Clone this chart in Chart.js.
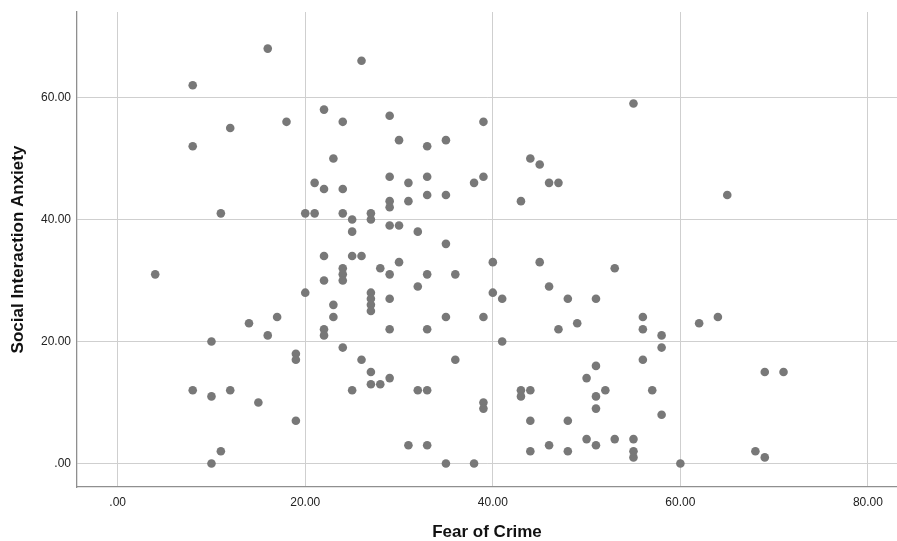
<!DOCTYPE html>
<html>
<head>
<meta charset="utf-8">
<script src="https://cdn.jsdelivr.net/npm/chart.js@4/dist/chart.umd.min.js"></script>
<style>
  html, body { margin: 0; padding: 0; background: #ffffff; overflow: hidden; }
  #wrap { width: 897px; height: 541px; position: relative; }
  canvas { display: block; }
</style>
</head>
<body>
<div id="wrap"><canvas id="c" width="897" height="541"></canvas></div>
<script>
const fearOfCrime = [
  16, 8, 22, 18, 24, 12, 8, 23, 21, 22, 24, 11, 20, 21, 24, 25, 25,
  4, 22, 25, 24, 24, 24, 22, 20, 23, 23, 14, 17, 16, 22, 22, 10, 24, 19, 19,
  8, 10, 12, 15, 25, 19, 11, 10,
  26, 29, 30, 33, 35, 39, 29, 31, 33, 38, 39, 33, 35, 29, 29, 31, 27, 27, 29, 30, 32, 35,
  26, 28, 30, 29, 33, 36, 40, 27, 27, 27, 27, 29, 32, 40, 41, 35, 39, 29, 33, 41,
  26, 27, 27, 28, 29, 32, 33, 36, 39, 39, 31, 33, 35, 38,
  55, 44, 45, 46, 47, 43, 65,
  45, 53, 46, 48, 51, 56, 62, 64, 47, 49, 56, 58, 58, 56, 51, 50, 69, 71,
  43, 43, 44, 52, 51, 57, 51, 58, 44, 48, 50, 46, 51, 53, 55, 55, 55, 44, 48, 60, 68, 69
];
const socialAnxiety = [
  68, 62, 58, 56, 56, 55, 52, 50, 46, 45, 45, 41, 41, 41, 41, 40, 38,
  31, 34, 34, 32, 31, 30, 30, 28, 26, 24, 23, 24, 21, 22, 21, 20, 19, 18, 17,
  12, 11, 12, 10, 12, 7, 2, 0,
  66, 57, 53, 52, 53, 56, 47, 46, 47, 46, 47, 44, 44, 43, 42, 43, 41, 40, 39, 39, 38, 36,
  34, 32, 33, 31, 31, 31, 33, 28, 27, 26, 25, 27, 29, 28, 27, 24, 24, 22, 22, 20,
  17, 15, 13, 13, 14, 12, 12, 17, 10, 9, 3, 3, 0, 0,
  59, 50, 49, 46, 46, 43, 44,
  33, 32, 29, 27, 27, 24, 23, 24, 22, 23, 22, 21, 19, 17, 16, 14, 15, 15,
  12, 11, 12, 12, 11, 12, 9, 8, 7, 7, 4, 3, 3, 4, 4, 2, 1, 2, 2, 0, 2, 1
];
const xTickValues = [0, 20, 40, 60, 80];
const xTickLabels = ['.00', '20.00', '40.00', '60.00', '80.00'];
const yTickValues = [0, 20, 40, 60];
const yTickLabels = ['.00', '20.00', '40.00', '60.00'];
const xTitle = 'Fear of Crime';
const yTitle = 'Social Interaction Anxiety';

const points = fearOfCrime.map((x, i) => ({ x: x, y: socialAnxiety[i] }));

const FONT = "'Liberation Sans', Arial, sans-serif";

new Chart(document.getElementById('c'), {
  type: 'scatter',
  data: {
    datasets: [{
      data: points,
      pointRadius: 4.3,
      pointHoverRadius: 4.3,
      pointBackgroundColor: '#787878',
      pointBorderWidth: 0,
      pointBorderColor: '#787878'
    }]
  },
  options: {
    responsive: false,
    animation: false,
    events: [],
    layout: { autoPadding: false, padding: { top: 12, right: 0, bottom: 0, left: 0 } },
    plugins: { legend: { display: false }, tooltip: { enabled: false } },
    scales: {
      x: {
        type: 'linear',
        min: -4.34,
        max: 83.1,
        afterBuildTicks: (s) => { s.ticks = xTickValues.map(v => ({ value: v })); },
        afterFit: (s) => { s.height = 54; s.paddingLeft = 0; s.paddingRight = 0; },
        grid: { color: '#cfcfcf', lineWidth: 1, drawTicks: false },
        border: { display: true, color: '#8f8f8f', width: 1.3 },
        ticks: {
          padding: 8,
          color: '#222222',
          font: { family: FONT, size: 12 },
          maxRotation: 0,
          autoSkip: false,
          callback: (v) => { const i = xTickValues.indexOf(v); return i >= 0 ? xTickLabels[i] : ''; }
        },
        title: {
          display: true,
          text: xTitle,
          color: '#111111',
          font: { family: FONT, size: 17, weight: 'bold', lineHeight: 1 },
          padding: { top: 0, bottom: 0 }
        }
      },
      y: {
        type: 'linear',
        min: -3.85,
        max: 74,
        afterBuildTicks: (s) => { s.ticks = yTickValues.map(v => ({ value: v })); },
        afterFit: (s) => { s.width = 77; s.paddingTop = 0; s.paddingBottom = 0; },
        grid: { color: '#cfcfcf', lineWidth: 1, drawTicks: false },
        border: { display: true, color: '#8f8f8f', width: 1.3 },
        ticks: {
          padding: 6,
          color: '#222222',
          font: { family: FONT, size: 12 },
          autoSkip: false,
          callback: (v) => { const i = yTickValues.indexOf(v); return i >= 0 ? yTickLabels[i] : ''; }
        },
        title: {
          display: true,
          text: yTitle,
          color: '#111111',
          font: { family: FONT, size: 17, weight: 'bold', lineHeight: 1 },
          padding: { top: 10, bottom: 0 }
        }
      }
    }
  }
});
</script>
</body>
</html>
